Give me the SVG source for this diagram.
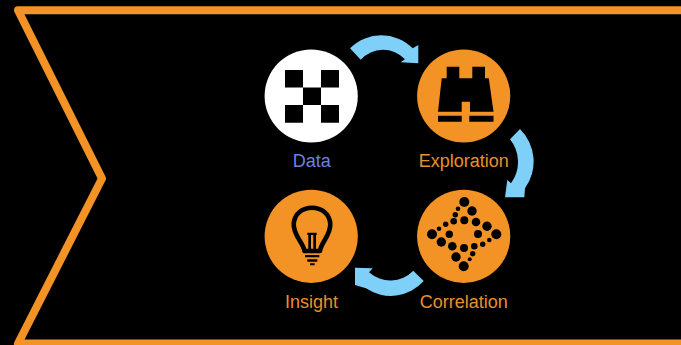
<svg xmlns="http://www.w3.org/2000/svg" width="681" height="345" viewBox="0 0 681 345">
<style>
.o{fill:#f39325}
.k{fill:#000}
.a{fill:#7fd0f8}
text{font-family:"Liberation Sans",Arial,sans-serif;font-size:18px;text-anchor:middle;fill:#e8912a}
</style>
<rect width="681" height="345" fill="#000"/>
<path id="frame" d="M684 10.300H18L102 178.500L18 343.600H684" fill="none" stroke="#f39325" stroke-width="8" stroke-linejoin="round"/>
<g id="connectors">
<path class="a" d="M350 48.300A44.300 44.300 0 0 1 412.700 48.300L418.300 45V63.300L400.700 62.300L405 59.300A30 30 0 0 0 360.700 59.700Z"/>
<path class="a" d="M510 139.300L520 129A45.700 45.700 0 0 1 525 188.300L524.300 197.300H505L507.300 180L511 183.300A36 36 0 0 0 510 139.300Z"/>
<path class="a" d="M413.300 270.700L423.700 281A44 44 0 0 1 366 288.300L355 285V267.700L372.700 268.300L369 272.300A32 32 0 0 0 413.300 270.700Z"/>
</g>
<g id="data">
<circle cx="311.200" cy="96" r="46.600" fill="#fff"/>
<path class="k" d="M285 70h18v17.500h-18zM321 70h18v17.500h-18zM303 87.500h18v17.500h-18zM285 105h18v17.700h-18zM321 105h18v17.700h-18z"/>
<text x="311.700" y="166.700" style="fill:#6b80e0">Data</text>
</g>
<g id="exploration">
<circle class="o" cx="463.700" cy="96" r="46.600"/>
<path class="k" d="M446.700 66.700H459.300V78.300H472.300V66.700H485V78.300H488.800L493.500 111.700H470V101.700H461.700V111.700H438L441.700 78.300H446.700Z"/>
<path class="k" d="M438 115.700H461.700V121.700H438ZM469.300 115.700H493.500V121.700H469.300Z"/>
<text x="463.800" y="166.700">Exploration</text>
</g>
<g id="correlation">
<circle class="o" cx="463.700" cy="236.300" r="46.600"/>
<g class="k">
<circle cx="464.300" cy="202" r="5"/><circle cx="458" cy="208.700" r="2.300"/><circle cx="472" cy="211" r="4.700"/><circle cx="455.300" cy="214.700" r="2.700"/>
<circle cx="453.700" cy="221.300" r="3.300"/><circle cx="464.300" cy="220.300" r="4"/><circle cx="476" cy="222" r="4.300"/><circle cx="445.700" cy="224.300" r="2.700"/>
<circle cx="439" cy="228.700" r="2.300"/><circle cx="487" cy="226.300" r="4.700"/><circle cx="432" cy="234.300" r="5"/><circle cx="449.300" cy="234.300" r="3.700"/>
<circle cx="478" cy="234" r="4"/><circle cx="496.300" cy="234.300" r="5"/><circle cx="441.300" cy="242" r="4.700"/><circle cx="489.300" cy="240" r="2.300"/>
<circle cx="482.700" cy="244.300" r="2.700"/><circle cx="452.300" cy="246.300" r="4.300"/><circle cx="464" cy="248" r="4"/><circle cx="474.300" cy="246.300" r="3.300"/>
<circle cx="472.700" cy="253.700" r="2.700"/><circle cx="456" cy="257" r="4.700"/><circle cx="469.700" cy="259.300" r="2"/><circle cx="463.700" cy="266.300" r="5"/>
</g>
<text x="463.800" y="307.700">Correlation</text>
</g>
<g id="insight">
<circle class="o" cx="311.200" cy="236.300" r="46.600"/>
<path d="M304.500 251C303 242 293.500 236 293.700 224C294.500 213 303 207.700 312 207.700C321 207.700 329.500 213 330.300 224C330.500 236 321 242 320 251Z" fill="none" stroke="#000" stroke-width="4.600" stroke-linejoin="round"/>
<path class="k" d="M307.300 232.700H316.700V235H316V252H313.300V235H311V252H308.300V235H307.300Z"/>
<path class="k" d="M305 255H319.300V257.300H305ZM307.300 259.300H317.300V261.700H307.300ZM310 263.300H314.700V265.300H310Z"/>
<text x="311.500" y="307.700">Insight</text>
</g>
</svg>
